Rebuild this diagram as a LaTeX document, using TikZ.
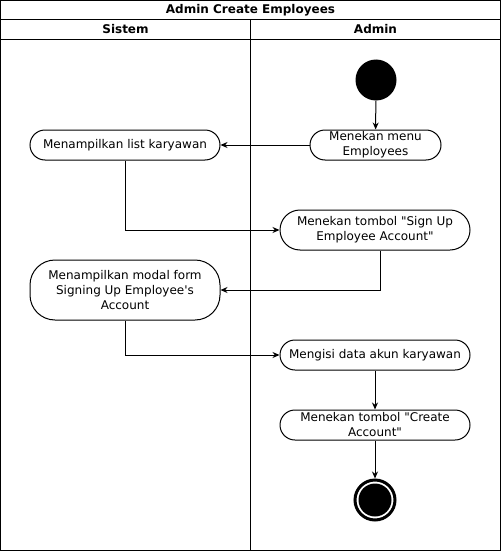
\documentclass[tikz,border=0pt]{standalone}
\usepackage{fontspec}
% plain family without the TeX quote mapping, so " and ' stay straight
\newfontfamily\plainfont{DejaVu Sans}
\usetikzlibrary{arrows.meta}
\begin{document}
\begin{tikzpicture}[x=1pt,y=-1pt,
  every node/.style={font=\plainfont\fontsize{12}{15}\selectfont, align=center, inner sep=0pt},
  action/.style={draw, line width=1pt, rounded corners=#1, fill=white},
  flow/.style={draw, line width=1pt, -{Stealth[length=7pt,width=6pt]}},
  lane/.style={draw, line width=1pt},
  head/.style={font=\plainfont\fontsize{12}{15}\selectfont\bfseries}
]
\useasboundingbox (0,0) rectangle (501,551);
% swimlane frame
\draw[lane] (0.5,0.5) rectangle (500.5,550.5);
\draw[lane] (0.5,19.5) -- (500.5,19.5);
\draw[lane] (0.5,40) -- (500.5,40);
\draw[lane] (250.5,19.5) -- (250.5,550.5);
\node[head] (title) at (250.5,10) {Admin Create Employees};
\node[head] (sistem) at (125.5,29.5) {Sistem};
\node[head] (admin) at (375.5,29.5) {Admin};

% start state
\node[circle, fill=black, minimum size=41pt] (start) at (376,80) {};

% actions
\node[action=15pt, minimum width=131pt, minimum height=30pt] (menu) at (375.5,145) {Menekan menu\\Employees};
\node[action=15pt, minimum width=190pt, minimum height=30pt] (list) at (125,145) {Menampilkan list karyawan};
\node[action=20pt, minimum width=190pt, minimum height=40pt] (signup) at (375,230) {Menekan tombol "Sign Up\\Employee Account"};
\node[action=25pt, minimum width=190pt, minimum height=60pt] (modal) at (125,290) {Menampilkan modal form\\Signing Up Employee's\\Account};
\node[action=15pt, minimum width=190pt, minimum height=30pt] (isi) at (375,355) {Mengisi data akun karyawan};
\node[action=15pt, minimum width=190pt, minimum height=30pt] (create) at (375,425) {Menekan tombol "Create\\Account"};

% end state
\node[circle, draw=black, line width=3pt, fill=white, minimum size=40pt] (end) at (375,500) {};
\node[circle, fill=black, minimum size=33pt] (endcore) at (375,500) {};

% flows
\draw[flow] (start) -- (menu);
\draw[flow] (menu) -- (list);
\draw[flow] (list.south) |- (signup.west);
\coordinate (sbot) at ([xshift=5pt]signup.south);
\draw[flow] (sbot) |- (modal.east);
\draw[flow] (modal.south) |- (isi.west);
\draw[flow] (isi) -- (create);
\draw[flow] (create) -- (end.north);
\end{tikzpicture}
\end{document}
